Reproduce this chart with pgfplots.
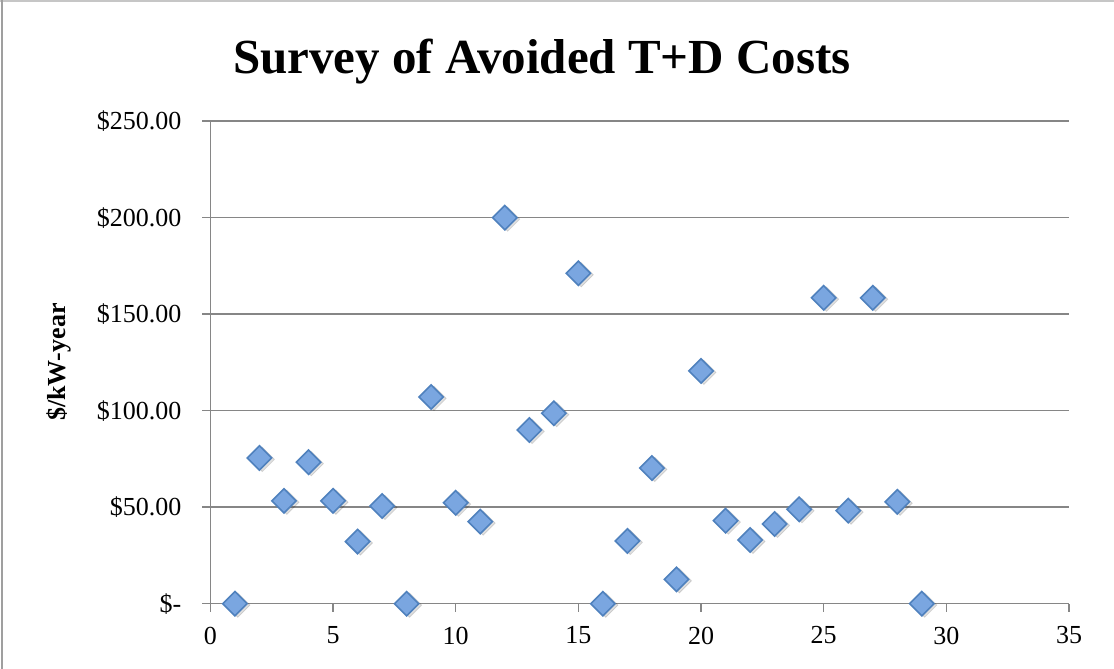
\documentclass[border=0pt]{standalone}
\usepackage{fontspec}
\setmainfont{Liberation Serif}
\usepackage{pgfplots}
\usepackage{pgfplotstable}
\pgfplotsset{compat=1.18}
\definecolor{gridgray}{RGB}{134,134,134}
\definecolor{mkfill}{RGB}{122,166,224}
\definecolor{mkdraw}{RGB}{79,129,189}
\pgfplotstableread{
x y
1 0
2 75.5
3 53.3
4 73.3
5 53.3
6 32.2
7 50.6
8 0
9 107.1
10 52.3
11 42.5
12 200
13 90
14 98.7
15 171.2
16 0
17 32.5
18 70.3
19 12.6
20 120.6
21 43
22 33
23 41.3
24 48.9
25 158.5
26 48.2
27 158.5
28 52.8
29 0
}\data
\begin{document}
\begin{tikzpicture}
\useasboundingbox (0,0) rectangle (557pt,334.5pt);
\draw[gray!45, line width=0.8pt] (0pt,334.1pt) -- (557pt,334.1pt);
\draw[gray!75, line width=1pt] (1pt,0pt) -- (1pt,334.5pt);
\begin{axis}[
  at={(105.2pt,32.65pt)}, anchor=south west, scale only axis,
  width=429.3pt, height=241.25pt,
  xmin=0, xmax=35, ymin=0, ymax=250,
  xtick={0,5,...,35}, ytick={0,50,...,250},
  yticklabels={\$-\hspace{5pt}, \$50.00, \$100.00, \$150.00, \$200.00, \$250.00},
  axis x line*=bottom, axis y line*=left,
  axis line style={gridgray, line width=0.75pt, -},
  ymajorgrids, major grid style={gridgray, line width=0.75pt},
  tick align=outside, major tick length=4pt,
  tick style={gridgray, line width=0.75pt},
  /pgf/number format/assume math mode=true,
  ticklabel style={font=\fontsize{13}{15}\selectfont, black},
  yticklabel style={xshift=-7pt},
  xticklabel style={yshift=-4pt},
  clip=false,
]
\addplot[only marks, mark=square*, mark size=4.3pt,
  mark options={rotate=45, fill=black, draw=none, opacity=0.12, yshift=-1.5pt, xshift=0.5pt}] table[x=x,y=y] {\data};
\addplot[only marks, mark=square*, mark size=4.3pt,
  mark options={rotate=45, fill=mkfill, draw=mkdraw, line width=0.8pt}] table[x=x,y=y] {\data};
\end{axis}
\node[font=\fontsize{24.5}{28}\selectfont\bfseries] at (271pt,303.8pt) {Survey of Avoided T+D Costs};
\node[font=\fontsize{13}{15}\selectfont\bfseries, rotate=90] at (29.5pt,153.5pt) {\$/kW-year};
\end{tikzpicture}
\end{document}
